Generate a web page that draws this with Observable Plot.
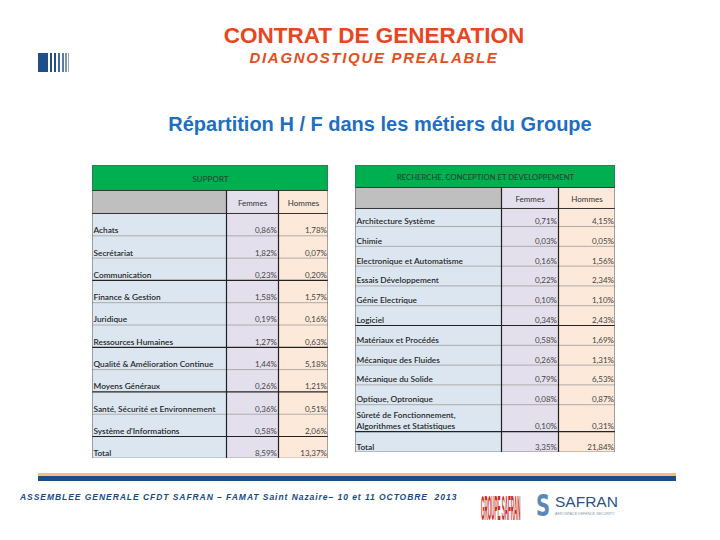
<!DOCTYPE html>
<html><head><meta charset="utf-8">
<script src="https://cdn.jsdelivr.net/npm/d3@7"></script>
<script src="https://cdn.jsdelivr.net/npm/@observablehq/plot@0.6"></script>
<style>
body{margin:0;background:#fff;}
#slide{position:relative;width:720px;height:540px;background:#fff;overflow:hidden;font-family:"Liberation Sans",Arial,sans-serif;}
.abs{position:absolute;white-space:nowrap;line-height:1;}
.stripe{position:absolute;top:53px;height:19px;background:#1f4e8c;}
</style></head>
<body>
<div id="slide">
  <div class="abs" style="left:0;width:748px;text-align:center;top:25px;font-size:22.5px;font-weight:bold;color:#e8461e;">CONTRAT DE GENERATION</div>
  <div class="abs" style="left:0;width:748px;text-align:center;top:50px;font-size:15px;font-weight:bold;font-style:italic;letter-spacing:1.7px;color:#e0501e;">DIAGNOSTIQUE PREALABLE</div>
  <div class="abs" style="left:0;width:760px;text-align:center;top:114px;font-size:20px;font-weight:bold;color:#1f6ebf;">Répartition H / F dans les métiers du Groupe</div>

  <div class="stripe" style="left:38px;width:10px;"></div>
  <div class="stripe" style="left:50px;width:2px;"></div>
  <div class="stripe" style="left:54px;width:2px;"></div>
  <div class="stripe" style="left:58px;width:2px;opacity:0.85"></div>
  <div class="stripe" style="left:62px;width:1.5px;opacity:0.75"></div>
  <div class="stripe" style="left:65px;width:1.5px;opacity:0.6"></div>
  <div class="stripe" style="left:68px;width:1px;opacity:0.5"></div>

  <div id="tab1" style="position:absolute;left:92px;top:165px;"></div>
  <div id="tab2" style="position:absolute;left:355px;top:165px;"></div>

  <div style="position:absolute;left:38px;top:473px;width:638px;height:3px;background:#f2c07a;"></div>
  <div style="position:absolute;left:38px;top:476px;width:638px;height:5px;background:#1e4d84;"></div>
  <div class="abs" style="left:20px;top:493px;font-size:8.5px;font-weight:bold;font-style:italic;letter-spacing:0.95px;color:#1a4b85;">ASSEMBLEE GENERALE CFDT SAFRAN – FAMAT Saint Nazaire– 10 et 11 OCTOBRE&nbsp; 2013</div>

  <svg style="position:absolute;left:478px;top:484px;overflow:visible;" width="145" height="40">
    <g transform="translate(3,36) scale(0.5,4)">
      <text x="0" y="0" font-family="Liberation Sans Narrow, Liberation Sans, sans-serif" font-weight="bold" font-size="9" fill="#c8302a">GROUPE SAFRAN</text>
    </g>
    <g transform="translate(58,32) scale(0.65,1)">
      <text x="0" y="0" font-family="DejaVu Sans, sans-serif" font-weight="bold" font-size="30" fill="#5b86b8">S</text>
    </g>
    <text x="77" y="23" font-family="Liberation Sans, sans-serif" font-size="15.5" fill="#2e5283">SAFRAN</text>
    <text x="77" y="31" font-family="Liberation Sans, sans-serif" font-size="3.6" fill="#8a94a6">AEROSPACE DEFENCE SECURITY</text>
  </svg>
</div>
<script>
// ---------- data ----------
const columnHeaders = ["Femmes", "Hommes"];

const supportTitle = "SUPPORT";
const supportMetiers = ["Achats", "Secrétariat", "Communication", "Finance & Gestion", "Juridique",
  "Ressources Humaines", "Qualité & Amélioration Continue", "Moyens Généraux",
  "Santé, Sécurité et Environnement", "Système d'Informations", "Total"];
const supportFemmes = [0.86, 1.82, 0.23, 1.58, 0.19, 1.27, 1.44, 0.26, 0.36, 0.58, 8.59];
const supportHommes = [1.78, 0.07, 0.20, 1.57, 0.16, 0.63, 5.18, 1.21, 0.51, 2.06, 13.37];

const rdTitle = "RECHERCHE, CONCEPTION ET DEVELOPPEMENT";
const rdMetiers = ["Architecture Système", "Chimie", "Electronique et Automatisme", "Essais Développement",
  "Génie Electrique", "Logiciel", "Matériaux et Procédés", "Mécanique des Fluides", "Mécanique du Solide",
  "Optique, Optronique", "Sûreté de Fonctionnement,\nAlgorithmes et Statistiques", "Total"];
const rdFemmes = [0.71, 0.03, 0.16, 0.22, 0.10, 0.34, 0.58, 0.26, 0.79, 0.08, 0.10, 3.35];
const rdHommes = [4.15, 0.05, 1.56, 2.34, 1.10, 2.43, 1.69, 1.31, 6.53, 0.87, 0.31, 21.84];

// ---------- layout ----------
const fmt = v => v.toFixed(2).replace(".", ",") + "%";
const colFills = ["#dce6f1", "#e4dfec", "#fde9d9"];

function drawTable(cfg) {
  const {title, metiers, femmes, hommes, colW, headH, subH, rowH, darkAfter, titleSize} = cfg;
  const W = d3.sum(colW);
  const xE = [0, colW[0], colW[0] + colW[1], W];
  let y = headH + subH;
  const rows = metiers.map((m, i) => {
    const r = {metier: m, f: femmes[i], h: hommes[i], y1: y, y2: y + rowH[i], dark: darkAfter.includes(i)};
    y += rowH[i];
    return r;
  });
  const H = y;
  const body = rows.flatMap(r => [0, 1, 2].map(c => ({x1: xE[c], x2: xE[c + 1], y1: r.y1, y2: r.y2, fill: colFills[c]})));
  const sub = [0, 1, 2].map(c => ({x1: xE[c], x2: xE[c + 1], y1: headH, y2: headH + subH, fill: c === 0 ? "#bfbfbf" : colFills[c]}));
  const txt = {fontSize: 8.3, fill: "#262626", fontWeight: 600, lineAnchor: "bottom", lineHeight: 1.3};
  return Plot.plot({
    width: W, height: H, margin: 0,
    style: {fontFamily: "Lato, 'Open Sans', sans-serif", background: "transparent"},
    x: {domain: [0, W], range: [0, W], axis: null},
    y: {domain: [0, H], range: [0, H], axis: null},
    color: {type: "identity"},
    marks: [
      Plot.rect([title], {x1: 0, x2: W, y1: 0, y2: headH, fill: "#00b050"}),
      Plot.rect(sub, {x1: "x1", x2: "x2", y1: "y1", y2: "y2", fill: "fill"}),
      Plot.rect(body, {x1: "x1", x2: "x2", y1: "y1", y2: "y2", fill: "fill"}),
      Plot.text([title], {x: W / 2, y: headH / 2 + 1, text: d => d, fontSize: titleSize, fill: "#2d4a33", fontWeight: 600, lineAnchor: "middle"}),
      Plot.text(columnHeaders, {x: (d, i) => (xE[i + 1] + xE[i + 2]) / 2, y: headH + subH / 2 + 1, text: d => d, fontSize: 8, fill: "#333", lineAnchor: "middle"}),
      Plot.ruleY(rows, {y: "y2", x1: 0, x2: W, stroke: d => d.dark ? "#222" : "#9a9a9a", strokeWidth: d => d.dark ? 1.2 : 0.8}),
      Plot.ruleY([headH, headH + subH], {x1: 0, x2: W, stroke: "#333", strokeWidth: 1}),
      Plot.ruleX([xE[1], xE[2]], {y1: headH, y2: H, stroke: "#222", strokeWidth: 1.2}),
      Plot.text(rows, {x: 1, y: "y2", dy: -2.5, text: "metier", textAnchor: "start", ...txt}),
      Plot.text(rows, {x: xE[2] - 1.5, y: "y2", dy: -2.5, text: d => fmt(d.f), textAnchor: "end", ...txt, fontSize: 8, fontWeight: 400, fill: "#444"}),
      Plot.text(rows, {x: W - 1.5, y: "y2", dy: -2.5, text: d => fmt(d.h), textAnchor: "end", ...txt, fontSize: 8, fontWeight: 400, fill: "#444"}),
      Plot.rect([title], {x1: 0, x2: W, y1: 0, y2: H, fill: "none", stroke: "#555", strokeWidth: 1})
    ]
  });
}

const t1 = drawTable({
  title: supportTitle, metiers: supportMetiers, femmes: supportFemmes, hommes: supportHommes,
  colW: [134, 52, 50], headH: 25, subH: 23, rowH: supportMetiers.map(() => 22.3), darkAfter: [2, 5, 7, 9], titleSize: 8
});
const t2 = drawTable({
  title: rdTitle, metiers: rdMetiers, femmes: rdFemmes, hommes: rdHommes,
  colW: [146, 57, 57], headH: 22, subH: 21,
  rowH: rdMetiers.map((m, i) => i === 0 ? 18 : (m.includes("\n") ? 27 : (i === rdMetiers.length - 1 ? 21 : 19.8))),
  darkAfter: [5, 10], titleSize: 7.7
});
document.getElementById("tab1").appendChild(t1);
document.getElementById("tab2").appendChild(t2);
</script>
</body></html>
